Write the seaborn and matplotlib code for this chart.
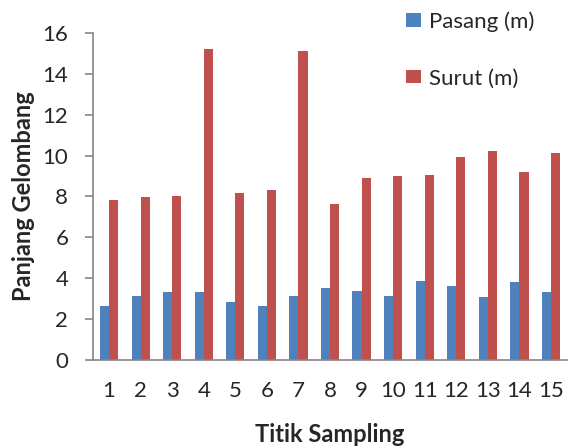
import pandas as pd
import matplotlib.pyplot as plt
import seaborn as sns

# data
titik = [str(i) for i in range(1, 16)]
pasang = [2.66, 3.16, 3.34, 3.31, 2.82, 2.66, 3.16, 3.54, 3.39, 3.13, 3.88, 3.63, 3.08, 3.83, 3.34]
surut = [7.82, 7.95, 8.02, 15.19, 8.15, 8.31, 15.09, 7.61, 8.90, 8.99, 9.06, 9.91, 10.22, 9.19, 10.13]
series = ['Pasang (m)', 'Surut (m)']
colors = ['#4F81BD', '#C0504D']

df = pd.DataFrame({
    'Titik': titik * 2,
    'Nilai': pasang + surut,
    'Seri': [series[0]] * len(titik) + [series[1]] * len(titik),
})

sns.set_style('white')
plt.rcParams['font.family'] = ['Lato', 'DejaVu Sans']

fig, ax = plt.subplots(figsize=(5.69, 4.48), dpi=100)
fig.subplots_adjust(left=0.164, right=0.996, bottom=0.196, top=0.927)

sns.barplot(data=df, x='Titik', y='Nilai', hue='Seri', palette=colors,
            width=0.58, ax=ax, saturation=1, edgecolor='none')

ax.set_xlim(-0.5, 14.5)
ax.set_ylim(0, 16)
ax.set_yticks(range(0, 17, 2))
ax.tick_params(axis='y', length=6, width=1.2, color='#868686', labelsize=16, pad=12, left=True)
ax.tick_params(axis='x', length=0, labelsize=16, pad=15)
for s in ['top', 'right']:
    ax.spines[s].set_visible(False)
for s in ['left', 'bottom']:
    ax.spines[s].set_color('#868686')
    ax.spines[s].set_linewidth(1.2)

ax.set_xlabel('Titik Sampling', fontsize=17, fontweight='bold', labelpad=16)
ax.set_ylabel('Panjang Gelombang', fontsize=17, fontweight='bold', labelpad=5)

ax.legend(loc='upper left', bbox_to_anchor=(0.7135, 0.975), bbox_transform=fig.transFigure,
          frameon=False, fontsize=16, handlelength=0.66, handleheight=0.55,
          labelspacing=1.65, handletextpad=0.36, borderpad=0, borderaxespad=0)

fig.savefig('out.png', dpi=100)
